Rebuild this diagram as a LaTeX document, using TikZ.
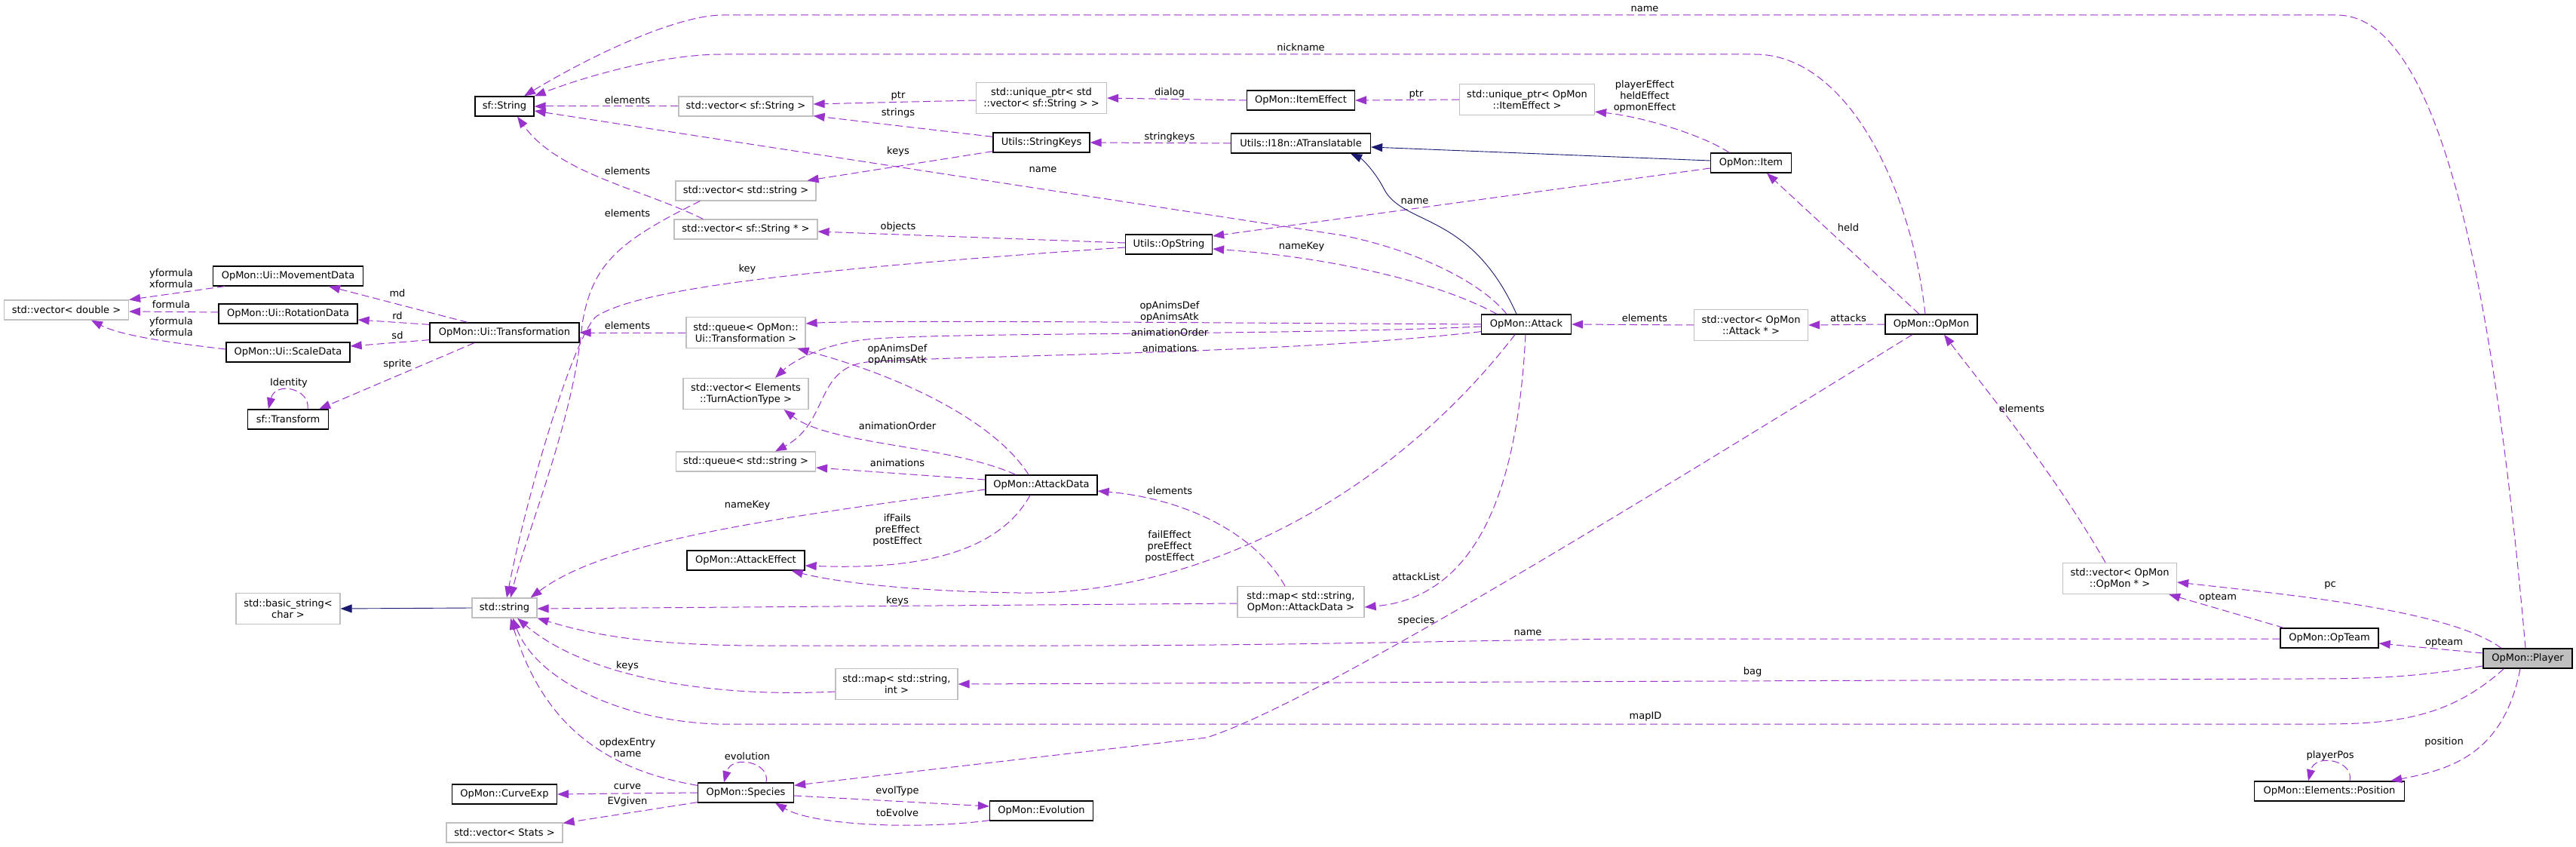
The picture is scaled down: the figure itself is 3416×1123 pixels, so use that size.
\documentclass[tikz,border=0pt]{standalone}
\usepackage{fontspec}
\setmainfont{DejaVu Sans}
\usetikzlibrary{arrows.meta,calc}
\definecolor{orchidc}{HTML}{9A32CD}
\definecolor{navyc}{HTML}{191970}
\definecolor{greyc}{HTML}{BFBFBF}
\begin{document}
\begin{tikzpicture}[x=0.5pt,y=-0.5pt,
  every node/.style={font=\fontsize{6.5pt}{7.5pt}\selectfont},
  base/.style={rectangle, inner sep=0pt, align=center, fill=white},
  cls/.style={base, draw=black, line width=0.65pt},
  ext/.style={base, draw=greyc, line width=0.6pt},
  wa/.style={minimum width=#1, minimum height=13pt},
  wb/.style={minimum width=#1, minimum height=20.5pt},
  lbl/.style={inner sep=0pt, align=center},
  uedge/.style={draw=orchidc, line width=0.5pt, dash pattern=on 5pt off 2.5pt, -{Triangle[length=7.5pt,width=5.5pt]}},
  iedge/.style={draw=navyc, line width=0.45pt, -{Triangle[length=7.5pt,width=5.5pt]}}]
\useasboundingbox (0,0) rectangle (3416,1123);
\fill[white] (0,0) rectangle (3416,1123);

% nodes
\node[cls,wa=39pt] (sfstring) at (669,141) {sf::String};
\node[ext,wa=89pt] (vecsfstr) at (989,141) {std::vector< sf::String >};
\node[ext,wb=86.5pt] (uptrvec) at (1381,130) {std::unique\_ptr< std\\::vector< sf::String > >};
\node[cls,wa=71.5pt] (itemeffect) at (1725,133) {OpMon::ItemEffect};
\node[ext,wb=89.5pt] (uptrie) at (2025,132) {std::unique\_ptr< OpMon\\::ItemEffect >};
\node[cls,wa=64pt] (stringkeys) at (1381,189) {Utils::StringKeys};
\node[cls,wa=92.5pt] (atrans) at (1725,190) {Utils::I18n::ATranslatable};
\node[cls,wa=53.5pt] (item) at (2322,216) {OpMon::Item};
\node[ext,wa=93pt] (vecstdstr) at (989,253) {std::vector< std::string >};
\node[ext,wa=95pt] (vecsfptr) at (989,304) {std::vector< sf::String * >};
\node[cls,wa=57.5pt] (opstring) at (1550,324) {Utils::OpString};
\node[cls,wa=99.5pt] (movdata) at (382,366) {OpMon::Ui::MovementData};
\node[ext,wa=82.5pt] (vecdouble) at (88,411) {std::vector< double >};
\node[cls,wa=92pt] (rotdata) at (382,416) {OpMon::Ui::RotationData};
\node[cls,wa=99pt] (transf) at (669,441) {OpMon::Ui::Transformation};
\node[cls,wa=82pt] (scaledata) at (382,467) {OpMon::Ui::ScaleData};
\node[ext,wb=79pt] (queuetr) at (989,441) {std::queue< OpMon::\\Ui::Transformation >};
\node[cls,wa=59.5pt] (attack) at (2024,430) {OpMon::Attack};
\node[ext,wb=75.5pt] (vecattack) at (2322,431) {std::vector< OpMon\\::Attack * >};
\node[cls,wa=61pt] (opmon) at (2561,430) {OpMon::OpMon};
\node[cls,wa=53.5pt] (sftransform) at (382,556) {sf::Transform};
\node[ext,wb=83pt] (vecturn) at (989,522) {std::vector< Elements\\::TurnActionType >};
\node[ext,wa=92.5pt] (queuestr) at (989,612) {std::queue< std::string >};
\node[cls,wa=74pt] (attackdata) at (1381,643) {OpMon::AttackData};
\node[cls,wa=78pt] (attackeffect) at (989,743) {OpMon::AttackEffect};
\node[ext,wb=69pt] (basicstr) at (382,807) {std::basic\_string<\\char >};
\node[ext,wa=43pt] (stdstring) at (669,806) {std::string};
\node[ext,wb=84pt] (mapattack) at (1725,798) {std::map< std::string,\\OpMon::AttackData >};
\node[ext,wb=75.5pt] (vecopmon) at (2811,767) {std::vector< OpMon\\::OpMon * >};
\node[cls,wa=65pt] (opteam) at (3089,846) {OpMon::OpTeam};
\node[cls,wa=59pt,fill=greyc] (player) at (3352,873) {OpMon::Player};
\node[ext,wb=81pt] (mapint) at (1189,907) {std::map< std::string,\\int >};
\node[cls,wa=99.5pt] (position) at (3089,1049) {OpMon::Elements::Position};
\node[cls,wa=69.5pt] (curveexp) at (669,1053) {OpMon::CurveExp};
\node[cls,wa=63.5pt] (species) at (989,1051) {OpMon::Species};
\node[cls,wa=68.5pt] (evolution) at (1381,1075) {OpMon::Evolution};
\node[ext,wa=77pt] (vecstats) at (669,1104) {std::vector< Stats >};

% edges
\draw[uedge] ($(player.north)+(-3,0)$) .. controls (3300,300) and (3220,20) .. (3099,20) -- (958,20) .. controls (900,20) and (790,70) .. ($(sfstring.north)+(26,0)$);
\draw[uedge] ($(opmon.north)+(-8,0)$) .. controls (2535,250) and (2450,72) .. (2327,72) -- (958,72) .. controls (880,72) and (780,100) .. (sfstring.north east);
\draw[uedge] (vecsfstr.west) -- (sfstring.east);
\draw[uedge] ($(attack.north)+(-26,0)$) .. controls (1960,370) and (1870,330) .. (1780,312) -- ($(sfstring.east)+(0,6)$);
\draw[uedge] ($(vecsfptr.north west)+(39,0)$) .. controls (850,250) and (740,230) .. ($(sfstring.south)+(17,0)$);
\draw[uedge] ($(vecstdstr.south west)+(33,0)$) .. controls (820,320) and (785,350) .. (772,430) .. controls (760,560) and (700,700) .. ($(stdstring.north)+(8,0)$);
\draw[uedge] ($(opstring.west)+(0,4)$) .. controls (1100,355) and (850,380) .. (790,420) .. controls (760,450) and (700,650) .. ($(stdstring.north)+(3,0)$);
\draw[uedge] ($(uptrvec.west)+(0,3)$) -- ($(vecsfstr.east)+(0,-3)$);
\draw[uedge] ($(stringkeys.north west)+(0,6)$) -- ($(vecsfstr.south east)+(0,-1)$);
\draw[uedge] ($(stringkeys.south west)+(0,-2)$) -- ($(vecstdstr.north east)+(-12,0)$);
\draw[uedge] (itemeffect.west) -- (uptrvec.east);
\draw[uedge] (uptrie.west) -- (itemeffect.east);
\draw[uedge] ($(item.north)+(-29,0)$) .. controls (2260,180) and (2180,155) .. ($(uptrie.south east)+(0,-5)$);
\draw[uedge] (atrans.west) -- (stringkeys.east);
\draw[uedge] ($(item.west)+(0,7)$) -- ($(opstring.east)+(0,-11)$);
\draw[uedge] ($(opstring.west)+(0,-2)$) -- ($(vecsfptr.east)+(0,3)$);
\draw[uedge] ($(attack.north west)+(21,0)$) .. controls (1900,370) and (1750,340) .. ($(opstring.east)+(0,6)$);
\draw[iedge] ($(item.west)+(0,-3)$) -- ($(atrans.east)+(0,5)$);
\draw[iedge] ($(attack.north)+(-13,0)$) .. controls (1950,280) and (1860,300) .. (1835,250) .. controls (1822,225) and (1805,210) .. ($(atrans.south)+(66,0)$);
\draw[uedge] ($(transf.north)+(-49,0)$) -- ($(movdata.south)+(54,0)$);
\draw[uedge] ($(transf.north west)+(0,3)$) -- ($(rotdata.east)+(0,8)$);
\draw[uedge] ($(transf.south west)+(0,-4)$) -- ($(scaledata.east)+(0,-8)$);
\draw[uedge] ($(transf.south)+(-40,0)$) -- ($(sftransform.north east)+(-13,0)$);
\draw[uedge] ($(sftransform.north)+(26,0)$) .. controls (412,515) and (365,505) .. ($(sftransform.north)+(-26,0)$);
\draw[uedge] ($(movdata.south west)+(16,0)$) -- (vecdouble.north east);
\draw[uedge] ($(rotdata.west)+(0,-2)$) -- ($(vecdouble.east)+(0,2)$);
\draw[uedge] ($(scaledata.west)+(0,-4)$) .. controls (230,455) and (160,445) .. ($(vecdouble.south)+(33,0)$);
\draw[uedge] (queuetr.west) -- (transf.east);
\draw[uedge] (attack.west) .. controls (1600,428) and (1150,424) .. ($(queuetr.east)+(0,-12)$);
\draw[uedge] ($(attack.west)+(0,3)$) .. controls (1700,445) and (1250,440) .. (1150,450) .. controls (1090,456) and (1050,480) .. ($(vecturn.north)+(39,0)$);
\draw[uedge] ($(attack.south west)+(0,-4)$) .. controls (1700,470) and (1300,470) .. (1150,480) .. controls (1080,488) and (1100,560) .. ($(queuestr.north)+(39,0)$);
\draw[uedge] ($(attackdata.north)+(-17,0)$) .. controls (1320,560) and (1200,500) .. ($(queuetr.south east)+(-11,0)$);
\draw[uedge] ($(attackdata.north)+(-34,0)$) .. controls (1260,590) and (1100,590) .. ($(vecturn.south east)+(-33,0)$);
\draw[uedge] ($(attackdata.west)+(0,-7)$) -- ($(queuestr.east)+(0,8)$);
\draw[uedge] ($(attackdata.west)+(0,6)$) .. controls (1000,690) and (800,720) .. ($(stdstring.north east)+(-9,0)$);
\draw[uedge] ($(attackdata.south)+(-15,0)$) .. controls (1320,740) and (1200,755) .. ($(attackeffect.east)+(0,7)$);
\draw[uedge] ($(attack.south)+(-15,0)$) .. controls (1850,650) and (1600,790) .. (1350,786) .. controls (1200,784) and (1100,770) .. ($(attackeffect.south east)+(-18,0)$);
\draw[uedge] ($(mapattack.north)+(-21,0)$) .. controls (1660,700) and (1560,660) .. ($(attackdata.east)+(0,8)$);
\draw[uedge] ($(attack.south)+(-1,0)$) .. controls (2015,600) and (1980,790) .. ($(mapattack.east)+(0,7)$);
\draw[uedge] ($(mapattack.west)+(0,2)$) -- ($(stdstring.east)+(0,1)$);
\draw[uedge] (opmon.west) -- (vecattack.east);
\draw[uedge] (vecattack.west) -- (attack.east);
\draw[uedge] ($(opmon.south)+(-25,0)$) .. controls (2200,650) and (1750,930) .. (1600,978) -- ($(species.north east)+(0,4)$);
\draw[uedge] ($(opmon.north)+(-16,0)$) -- ($(item.south)+(21,0)$);
\draw[uedge] ($(vecopmon.north)+(-19,0)$) .. controls (2720,620) and (2620,500) .. ($(opmon.south)+(17,0)$);
\draw[uedge] ($(player.north)+(-35,0)$) .. controls (3250,810) and (3050,790) .. ($(vecopmon.east)+(0,5)$);
\draw[uedge] ($(opteam.north west)+(5,0)$) -- ($(vecopmon.south east)+(-11,0)$);
\draw[uedge] ($(player.west)+(0,-7)$) -- ($(opteam.east)+(0,7)$);
\draw[uedge] ($(opteam.west)+(0,1)$) -- (2150,847) .. controls (1900,850) and (1700,856) .. (1400,856) -- (1000,856) .. controls (850,855) and (780,840) .. (stdstring.south east);
\draw[uedge] ($(player.west)+(0,10)$) .. controls (3200,898) and (3150,900) .. (3050,900) -- (mapint.east);
\draw[uedge] ($(mapint.west)+(0,10)$) .. controls (950,925) and (780,900) .. ($(stdstring.south)+(17,0)$);
\draw[uedge] ($(player.south west)+(28,0)$) .. controls (3250,950) and (3180,960) .. (3080,960) -- (950,960) .. controls (820,955) and (710,900) .. ($(stdstring.south)+(11,0)$);
\draw[uedge] ($(player.south)+(-10,0)$) .. controls (3320,1000) and (3250,1020) .. ($(position.north east)+(-19,0)$);
\draw[uedge] ($(position.north)+(27,0)$) .. controls (3122,1008) and (3070,998) .. ($(position.north)+(-28,0)$);
\draw[uedge] ($(species.north west)+(0,4)$) .. controls (800,1020) and (720,960) .. ($(stdstring.south)+(8,0)$);
\draw[uedge] (species.west) -- (curveexp.east);
\draw[uedge] ($(species.south west)+(0,-1)$) -- ($(vecstats.north east)+(0,1)$);
\draw[uedge] ($(species.north)+(27,0)$) .. controls (1022,1010) and (970,1000) .. ($(species.north)+(-29,0)$);
\draw[uedge] ($(species.east)+(0,4)$) -- ($(evolution.west)+(0,-6)$);
\draw[uedge] ($(evolution.south west)+(0,-1)$) .. controls (1220,1100) and (1080,1095) .. ($(species.south)+(39,0)$);
\draw[iedge] (stdstring.west) -- (basicstr.east);

% labels
\node[lbl] (l1) at (2181,12) {name};
\node[lbl] (l2) at (1725,63) {nickname};
\node[lbl] (l3) at (832,133) {elements};
\node[lbl] (l4) at (1383,225) {name};
\node[lbl] (l5) at (832,227) {elements};
\node[lbl] (l6) at (832,283) {elements};
\node[lbl] (l7) at (991,357) {key};
\node[lbl] (l8) at (1191,127) {ptr};
\node[lbl] (l9) at (1191,150) {strings};
\node[lbl] (l10) at (1191,201) {keys};
\node[lbl] (l11) at (1551,123) {dialog};
\node[lbl] (l12) at (1878,125) {ptr};
\node[lbl] (l13) at (2181,128) {playerEffect\\heldEffect\\opmonEffect};
\node[lbl] (l14) at (1551,182) {stringkeys};
\node[lbl] (l15) at (1876,267) {name};
\node[lbl] (l16) at (1191,301) {objects};
\node[lbl] (l17) at (1726,327) {nameKey};
\node[lbl] (l20) at (527,389) {md};
\node[lbl] (l21) at (527,419) {rd};
\node[lbl] (l22) at (527,445) {sd};
\node[lbl] (l23) at (527,483) {sprite};
\node[lbl] (l24) at (383,508) {Identity};
\node[lbl] (l25) at (227,369) {yformula\\xformula};
\node[lbl] (l26) at (227,404) {formula};
\node[lbl] (l27) at (227,433) {yformula\\xformula};
\node[lbl] (l28) at (832,432) {elements};
\node[lbl] (l29) at (1551,413) {opAnimsDef\\opAnimsAtk};
\node[lbl] (l30) at (1551,441) {animationOrder};
\node[lbl] (l31) at (1551,462) {animations};
\node[lbl] (l32) at (1190,470) {opAnimsDef\\opAnimsAtk};
\node[lbl] (l33) at (1190,565) {animationOrder};
\node[lbl] (l34) at (1190,614) {animations};
\node[lbl] (l35) at (991,670) {nameKey};
\node[lbl] (l36) at (1190,703) {ifFails\\preEffect\\postEffect};
\node[lbl] (l37) at (1551,725) {failEffect\\preEffect\\postEffect};
\node[lbl] (l38) at (1551,651) {elements};
\node[lbl] (l39) at (1878,765) {attackList};
\node[lbl] (l40) at (1190,797) {keys};
\node[lbl] (l41) at (2451,422) {attacks};
\node[lbl] (l42) at (2181,422) {elements};
\node[lbl] (l43) at (1878,823) {species};
\node[lbl] (l44) at (2451,302) {held};
\node[lbl] (l45) at (2681,542) {elements};
\node[lbl] (l46) at (3090,776) {pc};
\node[lbl] (l47) at (2941,792) {opteam};
\node[lbl] (l48) at (3241,852) {opteam};
\node[lbl] (l49) at (2026,839) {name};
\node[lbl] (l50) at (2324,891) {bag};
\node[lbl] (l51) at (832,883) {keys};
\node[lbl] (l52) at (2182,950) {mapID};
\node[lbl] (l53) at (3241,984) {position};
\node[lbl] (l54) at (3090,1002) {playerPos};
\node[lbl] (l55) at (832,991) {opdexEntry\\name};
\node[lbl] (l56) at (832,1043) {curve};
\node[lbl] (l57) at (832,1063) {EVgiven};
\node[lbl] (l58) at (991,1003) {evolution};
\node[lbl] (l59) at (1190,1049) {evolType};
\node[lbl] (l60) at (1190,1078) {toEvolve};
\end{tikzpicture}
\end{document}
